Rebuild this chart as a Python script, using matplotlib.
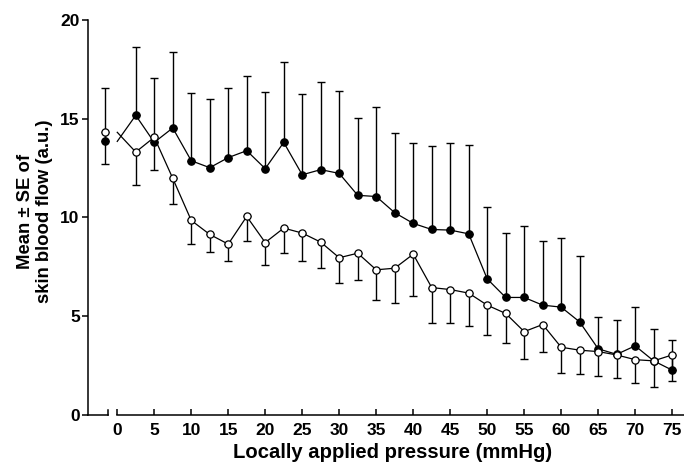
import matplotlib
matplotlib.use("Agg")
import matplotlib.pyplot as plt
from matplotlib.lines import Line2D

plt.rcParams['font.family'] = ['Liberation Sans', 'DejaVu Sans']
plt.rcParams['font.weight'] = 'bold'

# ---- data ----
baseline_x = -1.6
pressure = [0, 2.5, 5, 7.5, 10, 12.5, 15, 17.5, 20, 22.5, 25, 27.5, 30, 32.5, 35,
            37.5, 40, 42.5, 45, 47.5, 50, 52.5, 55, 57.5, 60, 62.5, 65, 67.5, 70, 72.5, 75]

# filled circles (mean, upper SE end); first value = baseline
filled_mean = [13.85, 15.17, 13.80, 14.53, 12.87, 12.52, 13.03, 13.38, 12.47, 13.80, 12.16,
               12.42, 12.23, 11.12, 11.06, 10.24, 9.70, 9.39, 9.36, 9.17, 6.89, 5.95,
               5.95, 5.56, 5.46, 4.71, 3.35, 3.07, 3.50, 2.74, 2.27]
filled_top = [16.56, 18.62, 17.05, 18.38, 16.32, 15.98, 16.54, 17.18, 16.35, 17.89, 16.23,
              16.88, 16.41, 15.02, 15.58, 14.29, 13.77, 13.63, 13.75, 13.65, 10.51, 9.22,
              9.56, 8.82, 8.97, 8.07, 4.98, 4.80, 5.49, 4.37, 3.82]

# open circles (mean, lower SE end); first value = baseline
open_mean = [14.31, 13.31, 14.06, 11.98, 9.85, 9.14, 8.65, 10.05, 8.73, 9.46, 9.21,
             8.75, 7.96, 8.19, 7.35, 7.43, 8.14, 6.45, 6.35, 6.17, 5.56, 5.14,
             4.22, 4.58, 3.43, 3.28, 3.21, 3.04, 2.80, 2.74, 3.04]
open_bottom = [12.70, 11.64, 12.40, 10.68, 8.65, 8.24, 7.77, 8.82, 7.60, 8.19, 7.77,
               7.42, 6.66, 6.81, 5.83, 5.68, 6.02, 4.68, 4.65, 4.50, 4.04, 3.62,
               2.82, 3.18, 2.15, 2.08, 1.96, 1.86, 1.64, 1.43, 1.72]

xticks = [0, 5, 10, 15, 20, 25, 30, 35, 40, 45, 50, 55, 60, 65, 70, 75]
yticks = [0, 5, 10, 15, 20]

fig = plt.figure(figsize=(6.84, 4.74), dpi=100)
ax = fig.add_axes([0.1287, 0.1245, 0.8713, 0.8335])
ax.set_xlim(-3.95, 76.6)
ax.set_ylim(0, 20)

xs = [baseline_x] + pressure[1:]
lw = 0.9
ms = 5.2

# error bars
f_up = [t - m for t, m in zip(filled_top, filled_mean)]
o_dn = [m - b for m, b in zip(open_mean, open_bottom)]
ax.errorbar(xs, filled_mean, yerr=[[0] * len(xs), f_up], fmt='none', ecolor='black',
            elinewidth=1.0, capsize=2.6, capthick=1.0, zorder=2)
ax.errorbar(xs, open_mean, yerr=[o_dn, [0] * len(xs)], fmt='none', ecolor='black',
            elinewidth=1.0, capsize=2.6, capthick=1.0, zorder=2)

# connecting lines (starting at 0 with baseline value)
ax.plot(pressure, filled_mean, color='black', lw=lw, zorder=3)
ax.plot(pressure, open_mean, color='black', lw=lw, zorder=3)

# markers
ax.plot(xs, filled_mean, 'o', color='black', ms=ms, zorder=5)
ax.plot(xs, open_mean, 'o', mfc='white', mec='black', mew=0.9, ms=ms, zorder=6)

# axes styling
for s in ['top', 'right']:
    ax.spines[s].set_visible(False)
ax.spines['left'].set_linewidth(1.1)
ax.spines['bottom'].set_linewidth(1.1)
ax.spines['bottom'].set_bounds(0, 76.6)
# left part of broken axis
ax.add_line(Line2D([-3.95, -1.2], [0, 0], color='black', lw=1.1, clip_on=False))
ax.add_line(Line2D([-1.2, -1.2], [0, 0.25], color='black', lw=1.1, clip_on=False))

ax.set_xticks(xticks)
ax.set_yticks(yticks)
ax.tick_params(axis='x', direction='in', length=4, width=1.1, labelsize=12.5, pad=6)
ax.tick_params(axis='y', direction='out', length=4, width=1.1, labelsize=12.5, pad=2)
for lab in ax.get_xticklabels() + ax.get_yticklabels():
    lab.set_fontweight('bold')

ax.set_xlabel('Locally applied pressure (mmHg)', fontsize=14.6, fontweight='bold')
ax.xaxis.set_label_coords(0.511, -0.072)
ax.set_ylabel('Mean ± SE of\nskin blood flow (a.u.)', fontsize=13.3, fontweight='bold',
              linespacing=1.2)
ax.yaxis.set_label_coords(-0.058, 0.515)

fig.savefig('out.png', dpi=100)
